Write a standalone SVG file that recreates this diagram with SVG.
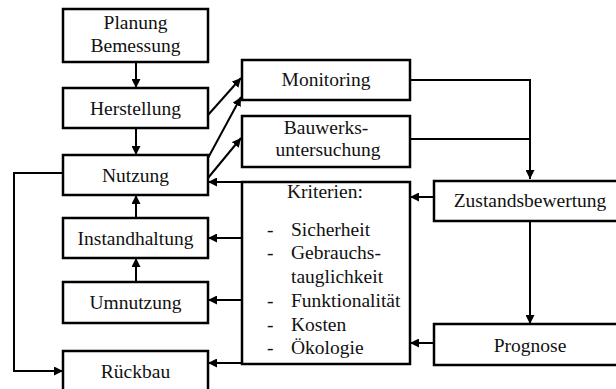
<svg xmlns="http://www.w3.org/2000/svg" width="616" height="389" viewBox="0 0 616 389">
<style>
.box{fill:#fff;stroke:#000;stroke-width:2.5}
.t{font-family:'Liberation Serif','Times New Roman',Times,'DejaVu Serif',serif;font-size:19.5px;fill:#111}
.c{text-anchor:middle}
.ln{fill:none;stroke:#000;stroke-width:2}
</style>
<defs>
<marker id="ah" viewBox="0 0 10 10" refX="10" refY="5" markerWidth="9" markerHeight="9" markerUnits="userSpaceOnUse" orient="auto">
<path d="M0,0 L10,5 L0,10 z" fill="#000"/>
</marker>
</defs>
<rect width="616" height="389" fill="#fff"/>
<g id="connectors">
<line class="ln" x1="136" y1="62" x2="136" y2="88" marker-end="url(#ah)"/>
<line class="ln" x1="136" y1="128" x2="136" y2="155" marker-end="url(#ah)"/>
<line class="ln" x1="136" y1="218" x2="136" y2="195" marker-end="url(#ah)"/>
<line class="ln" x1="136" y1="282" x2="136" y2="258" marker-end="url(#ah)"/>
<line class="ln" x1="208" y1="115" x2="241" y2="78" marker-end="url(#ah)"/>
<line class="ln" x1="208" y1="158" x2="241" y2="97" marker-end="url(#ah)"/>
<line class="ln" x1="208" y1="178" x2="241" y2="138" marker-end="url(#ah)"/>
<polyline class="ln" points="410,80 530,80 530,179" marker-end="url(#ah)"/>
<line class="ln" x1="410" y1="139" x2="530" y2="139"/>
<line class="ln" x1="530" y1="221" x2="530" y2="324" marker-end="url(#ah)"/>
<line class="ln" x1="434" y1="197" x2="410" y2="197" marker-end="url(#ah)"/>
<line class="ln" x1="434" y1="343" x2="410" y2="343" marker-end="url(#ah)"/>
<line class="ln" x1="242" y1="182" x2="208" y2="182" marker-end="url(#ah)"/>
<line class="ln" x1="242" y1="238" x2="208" y2="238" marker-end="url(#ah)"/>
<line class="ln" x1="242" y1="300" x2="208" y2="300" marker-end="url(#ah)"/>
<line class="ln" x1="242" y1="363" x2="208" y2="363" marker-end="url(#ah)"/>
<polyline class="ln" points="63,173 14,173 14,371 63,371" marker-end="url(#ah)"/>
</g>
<g id="planung"><rect class="box" x="63" y="9" width="145" height="53"/>
<text class="t c" x="135.5" y="29">Planung</text><text class="t c" x="135.5" y="52">Bemessung</text></g>
<g id="herstellung"><rect class="box" x="63" y="88" width="145" height="40"/>
<text class="t c" x="135.5" y="115">Herstellung</text></g>
<g id="nutzung"><rect class="box" x="63" y="155" width="145" height="40"/>
<text class="t c" x="135.5" y="182">Nutzung</text></g>
<g id="instandhaltung"><rect class="box" x="63" y="218" width="145" height="40"/>
<text class="t c" x="135.5" y="245">Instandhaltung</text></g>
<g id="umnutzung"><rect class="box" x="63" y="282" width="145" height="41"/>
<text class="t c" x="135.5" y="309">Umnutzung</text></g>
<g id="rueckbau"><rect class="box" x="63" y="351" width="145" height="50"/>
<text class="t c" x="135.5" y="378">Rückbau</text></g>
<g id="monitoring"><rect class="box" x="242" y="60" width="168" height="40"/>
<text class="t c" x="326" y="86">Monitoring</text></g>
<g id="bauwerksuntersuchung"><rect class="box" x="242" y="116" width="168" height="51"/>
<text class="t c" x="326" y="134">Bauwerks-</text><text class="t c" x="328" y="156">untersuchung</text></g>
<g id="kriterien"><rect class="box" x="242" y="182" width="168" height="182"/>
<text class="t" x="287" y="198">Kriterien:</text>
<text class="t" x="267" y="236">-</text><text class="t" x="291" y="236">Sicherheit</text>
<text class="t" x="267" y="259">-</text><text class="t" x="291" y="259">Gebrauchs-</text>
<text class="t" x="291" y="283">tauglichkeit</text>
<text class="t" x="267" y="307">-</text><text class="t" x="291" y="307">Funktionalität</text>
<text class="t" x="267" y="331">-</text><text class="t" x="291" y="331">Kosten</text>
<text class="t" x="267" y="354">-</text><text class="t" x="291" y="354">Ökologie</text></g>
<g id="zustandsbewertung"><rect class="box" x="434" y="181" width="192" height="40"/>
<text class="t c" x="530" y="207">Zustandsbewertung</text></g>
<g id="prognose"><rect class="box" x="434" y="324" width="192" height="41"/>
<text class="t c" x="530" y="352">Prognose</text></g>
</svg>
